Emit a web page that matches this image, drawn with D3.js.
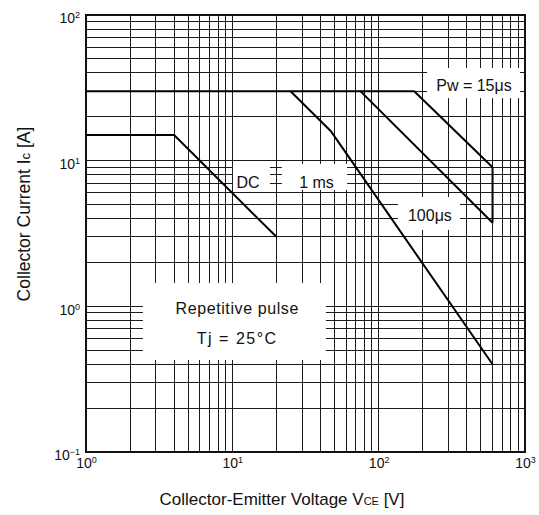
<!DOCTYPE html>
<html>
<head>
<meta charset="utf-8">
<script src="https://cdn.jsdelivr.net/npm/d3@7"></script>
<style>
  html, body { margin: 0; padding: 0; background: #fff; }
  svg { display: block; }
  text { font-family: "Liberation Sans", Arial, sans-serif; fill: #111; }
</style>
</head>
<body>
<div id="chart"></div>
<script>
// Safe operating area, log-log
const xTicks = [1, 10, 100, 1000];
const yTicks = [0.1, 1, 10, 100];
const xExp = ['0', '1', '2', '3'];
const yExp = ['\u22121', '0', '1', '2'];

// curve points [VCE, Ic]
const dcCurve    = [[1, 15], [4, 15], [20, 3]];
const ms1Curve   = [[25, 30], [47, 16], [600, 0.4]];
const us100Curve = [[75, 30], [600, 3.75]];
const us15Curve  = [[1, 30], [175, 30], [600, 9]];
const limitLine  = [[600, 9], [600, 3.75]];

// white cut-outs in the grid behind labels [x0, x1, y0, y1] in data units
const boxes = [
  [214, 925, 26.9, 43.3],     // Pw = 15us
  [10.1, 18.1, 6.3, 9.5],     // DC
  [21.8, 60.8, 6.3, 9.5],     // 1 ms
  [135.6, 359.6, 3.34, 5.63], // 100us
  [2.45, 43.6, 0.428, 1.445]  // Repetitive pulse
];

// labels: text, x, y (data units, text centre)
const labels = [
  ['Pw = 15\u03bcs', 448, 33],
  ['DC', 12.8, 7.1],
  ['1 ms', 37.6, 7.1],
  ['100\u03bcs', 224, 4.24],
  ['Repetitive pulse', 10.8, 0.975],
  ['Tj = 25\u00b0C', 10.8, 0.607]
];

const W = 539, H = 515;
const m = { left: 86, right: 14, top: 15, bottom: 63 };

const svg = d3.select('#chart').append('svg')
  .attr('width', W).attr('height', H);

const x = d3.scaleLog().domain([1, 1000]).range([m.left, W - m.right]);
const y = d3.scaleLog().domain([0.1, 100]).range([H - m.bottom, m.top]);

// grid: 1..9 in every decade
const gridX = [], gridY = [];
[1, 10, 100].forEach(d => d3.range(1, 10).forEach(k => gridX.push(d * k)));
[0.1, 1, 10].forEach(d => d3.range(1, 10).forEach(k => gridY.push(+(d * k).toPrecision(3))));

const grid = svg.append('g').attr('shape-rendering', 'crispEdges')
  .attr('stroke', '#1a1a1a').attr('stroke-width', 1);

grid.selectAll('line.v').data(gridX).join('line')
  .attr('class', 'v')
  .attr('x1', d => x(d)).attr('x2', d => x(d))
  .attr('y1', y(0.1)).attr('y2', y(100));

grid.selectAll('line.h').data(gridY).join('line')
  .attr('class', 'h')
  .attr('y1', d => y(d)).attr('y2', d => y(d))
  .attr('x1', x(1)).attr('x2', x(1000));

// label backgrounds
svg.append('g').selectAll('rect').data(boxes).join('rect')
  .attr('x', d => x(d[0])).attr('width', d => x(d[1]) - x(d[0]))
  .attr('y', d => y(d[3])).attr('height', d => y(d[2]) - y(d[3]))
  .attr('fill', '#fff');

// frame
svg.append('rect')
  .attr('x', x(1)).attr('y', y(100))
  .attr('width', x(1000) - x(1)).attr('height', y(0.1) - y(100))
  .attr('fill', 'none').attr('stroke', '#111').attr('stroke-width', 2);

// curves
const line = d3.line().x(d => x(d[0])).y(d => y(d[1]));
svg.append('g').selectAll('path')
  .data([dcCurve, ms1Curve, us100Curve, us15Curve, limitLine])
  .join('path')
  .attr('d', line)
  .attr('fill', 'none').attr('stroke', '#000').attr('stroke-width', 2)
  .attr('stroke-linejoin', 'round');

// in-plot labels
svg.append('g').selectAll('text').data(labels).join('text')
  .attr('x', d => x(d[1])).attr('y', d => y(d[2]))
  .attr('dy', '0.35em')
  .attr('text-anchor', 'middle')
  .attr('font-size', 16)
  .attr('letter-spacing', d => d[0].startsWith('Tj') ? 1.5 : (d[0].startsWith('Rep') ? 0.6 : 0))
  .text(d => d[0]);

// axes (ticks drawn as labels only, grid does the rest)
function powLabels(sel, exps) {
  sel.selectAll('.tick text').each(function(d, i) {
    const t = d3.select(this).text('10').attr('font-size', 14)
      .attr('font-family', '"Liberation Sans", Arial, sans-serif').attr('fill', '#111');
    t.append('tspan').attr('dy', '-0.55em').attr('font-size', 9).text(exps[i]);
  });
  sel.select('.domain').remove();
  sel.selectAll('.tick line').remove();
}

svg.append('g')
  .attr('transform', `translate(0,${y(0.1)})`)
  .call(d3.axisBottom(x).tickValues(xTicks).tickSize(0).tickPadding(6))
  .call(g => powLabels(g, xExp));

svg.append('g')
  .attr('transform', `translate(${x(1)},0)`)
  .call(d3.axisLeft(y).tickValues(yTicks).tickSize(0).tickPadding(6))
  .call(g => powLabels(g, yExp))
  .call(g => g.selectAll('.tick text').attr('dy', '0.55em'));

// axis titles
const xt = svg.append('text')
  .attr('x', 282).attr('y', 505)
  .attr('text-anchor', 'middle').attr('font-size', 17)
  .text('Collector-Emitter Voltage V');
xt.append('tspan').attr('font-size', 11).text('CE');
xt.append('tspan').text(' [V]');

const yt = svg.append('text')
  .attr('transform', 'translate(30,214) rotate(-90)')
  .attr('text-anchor', 'middle').attr('font-size', 17.5)
  .text('Collector Current I');
yt.append('tspan').attr('font-size', 13).text('c');
yt.append('tspan').text(' [A]');
</script>
</body>
</html>
